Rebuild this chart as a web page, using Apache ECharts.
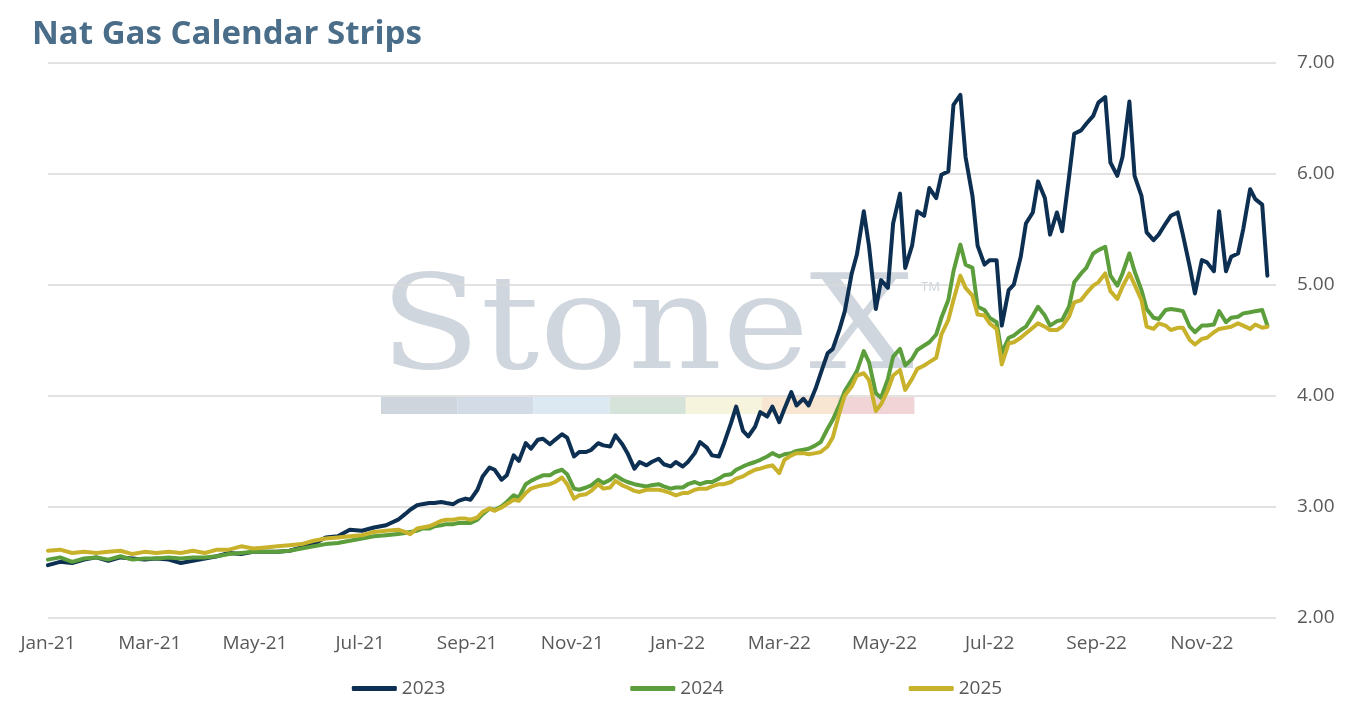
<!DOCTYPE html>
<html>
<head>
<meta charset="utf-8">
<script src="https://cdn.jsdelivr.net/npm/echarts@6/dist/echarts.min.js"></script>
<style>
html,body{margin:0;padding:0;background:#fff;}
#chart{width:1354px;height:707px;}
</style>
</head>
<body>
<div id="chart"></div>
<script>
const titleText = 'Nat Gas Calendar Strips';
const seriesNames = ['2023', '2024', '2025'];
const seriesColors = ['#0d3052', '#5b9e3b', '#c8b22c'];

const tickDates = ['2021-01-01','2021-03-01','2021-05-01','2021-07-01','2021-09-01','2021-11-01',
  '2022-01-01','2022-03-01','2022-05-01','2022-07-01','2022-09-01','2022-11-01'];
const tickLabels = ['Jan-21','Mar-21','May-21','Jul-21','Sep-21','Nov-21',
  'Jan-22','Mar-22','May-22','Jul-22','Sep-22','Nov-22'];
const yTicks = [2, 3, 4, 5, 6, 7];

const dates = [
  '2021-01-01','2021-01-08','2021-01-15','2021-01-22','2021-01-29',
  '2021-02-05','2021-02-12','2021-02-19','2021-02-26',
  '2021-03-05','2021-03-12','2021-03-19','2021-03-26',
  '2021-04-02','2021-04-09','2021-04-16','2021-04-23','2021-04-30',
  '2021-05-07','2021-05-14','2021-05-21','2021-05-28',
  '2021-06-04','2021-06-11','2021-06-18','2021-06-25',
  '2021-07-02','2021-07-09','2021-07-16','2021-07-23',
  '2021-07-27','2021-07-30',
  '2021-08-03','2021-08-06','2021-08-10','2021-08-13','2021-08-17','2021-08-20','2021-08-24','2021-08-27','2021-08-31',
  '2021-09-03','2021-09-07','2021-09-10','2021-09-14','2021-09-17','2021-09-21','2021-09-24','2021-09-28',
  '2021-10-01','2021-10-05','2021-10-08','2021-10-12','2021-10-15','2021-10-19','2021-10-22','2021-10-26','2021-10-29',
  '2021-11-02','2021-11-05','2021-11-09','2021-11-12','2021-11-16','2021-11-19','2021-11-23','2021-11-26','2021-11-30',
  '2021-12-03','2021-12-07','2021-12-10','2021-12-14','2021-12-17','2021-12-21','2021-12-24','2021-12-28','2021-12-31',
  '2022-01-04','2022-01-07','2022-01-11','2022-01-14','2022-01-18','2022-01-21','2022-01-25','2022-01-28',
  '2022-02-01','2022-02-04','2022-02-08','2022-02-11','2022-02-15','2022-02-18','2022-02-22','2022-02-25',
  '2022-03-01','2022-03-04','2022-03-08','2022-03-11','2022-03-15','2022-03-18','2022-03-22','2022-03-25','2022-03-29',
  '2022-04-01','2022-04-05','2022-04-08','2022-04-12','2022-04-15','2022-04-19','2022-04-22','2022-04-26','2022-04-29',
  '2022-05-03','2022-05-06','2022-05-10','2022-05-13','2022-05-17','2022-05-20','2022-05-24','2022-05-27','2022-05-31',
  '2022-06-03','2022-06-07','2022-06-10','2022-06-14','2022-06-17','2022-06-21','2022-06-24','2022-06-28',
  '2022-07-01','2022-07-05','2022-07-08','2022-07-12','2022-07-15','2022-07-19','2022-07-22','2022-07-26','2022-07-29',
  '2022-08-02','2022-08-05','2022-08-09','2022-08-12','2022-08-16','2022-08-19','2022-08-23','2022-08-26','2022-08-30',
  '2022-09-02','2022-09-06','2022-09-09','2022-09-13','2022-09-16','2022-09-20','2022-09-23','2022-09-27','2022-09-30',
  '2022-10-04','2022-10-07','2022-10-11','2022-10-14','2022-10-18','2022-10-21','2022-10-25','2022-10-28',
  '2022-11-01','2022-11-04','2022-11-08','2022-11-11','2022-11-15','2022-11-18','2022-11-22','2022-11-25','2022-11-29',
  '2022-12-02','2022-12-06','2022-12-09'
];

const strip2023 = [
  2.47,2.50,2.49,2.52,2.54, 2.51,2.54,2.53,2.52, 2.53,2.52,2.49,2.51, 2.53,2.55,2.58,2.57,2.59,
  2.59,2.59,2.60,2.63, 2.66,2.72,2.73,2.79, 2.78,2.81,2.83,2.88,
  2.93,2.97,
  3.01,3.02,3.03,3.03,3.04,3.03,3.02,3.05,3.07,
  3.06,3.15,3.27,3.35,3.33,3.24,3.28,3.46,
  3.41,3.57,3.52,3.60,3.61,3.56,3.60,3.65,3.62,
  3.45,3.49,3.49,3.51,3.57,3.55,3.54,3.64,3.56,
  3.48,3.34,3.40,3.37,3.40,3.43,3.38,3.36,3.40,
  3.36,3.40,3.48,3.58,3.53,3.46,3.45,3.57,
  3.75,3.90,3.68,3.63,3.72,3.85,3.81,3.90,
  3.76,3.88,4.03,3.91,3.97,3.91,4.06,4.20,4.38,
  4.42,4.60,4.76,5.10,5.27,5.66,5.35,4.78,5.04,
  4.97,5.55,5.82,5.15,5.35,5.66,5.62,5.87,5.78,
  5.99,6.02,6.62,6.71,6.15,5.80,5.35,5.18,
  5.22,5.22,4.63,4.95,5.00,5.25,5.55,5.65,5.93,
  5.78,5.45,5.65,5.48,5.97,6.36,6.39,6.45,6.52,
  6.64,6.69,6.10,5.98,6.15,6.65,5.98,5.80,5.47,
  5.40,5.45,5.55,5.62,5.65,5.45,5.16,4.92,
  5.22,5.20,5.12,5.66,5.12,5.25,5.28,5.50,5.86,
  5.77,5.72,5.08
];

const strip2024 = [
  2.52,2.54,2.50,2.53,2.54, 2.52,2.55,2.52,2.53, 2.53,2.54,2.53,2.54, 2.54,2.55,2.57,2.58,2.59,
  2.59,2.59,2.60,2.62, 2.64,2.66,2.67,2.69, 2.71,2.73,2.74,2.75,
  2.76,2.77,
  2.78,2.80,2.80,2.82,2.83,2.84,2.84,2.85,2.85,
  2.85,2.88,2.93,2.98,2.97,3.00,3.04,3.10,
  3.08,3.20,3.23,3.26,3.28,3.28,3.31,3.33,3.29,
  3.16,3.15,3.17,3.19,3.24,3.21,3.24,3.28,3.24,
  3.22,3.20,3.19,3.18,3.19,3.20,3.18,3.16,3.17,
  3.17,3.20,3.22,3.20,3.22,3.22,3.25,3.28,
  3.29,3.33,3.36,3.38,3.40,3.42,3.45,3.48,
  3.45,3.47,3.48,3.50,3.51,3.52,3.55,3.58,3.70,
  3.78,3.92,4.04,4.14,4.22,4.40,4.30,4.02,3.98,
  4.15,4.35,4.42,4.27,4.33,4.41,4.45,4.48,4.55,
  4.70,4.86,5.12,5.36,5.18,5.15,4.80,4.77,
  4.70,4.66,4.38,4.52,4.54,4.59,4.62,4.72,4.80,
  4.72,4.63,4.67,4.68,4.80,5.02,5.10,5.15,5.28,
  5.31,5.34,5.08,4.99,5.10,5.28,5.12,4.95,4.78,
  4.70,4.69,4.77,4.78,4.77,4.76,4.62,4.57,
  4.63,4.63,4.64,4.76,4.66,4.70,4.71,4.74,4.75,
  4.76,4.77,4.63
];

const strip2025 = [
  2.60,2.61,2.58,2.59,2.58, 2.59,2.60,2.57,2.59, 2.58,2.59,2.58,2.60, 2.58,2.61,2.61,2.64,2.62,
  2.63,2.64,2.65,2.66, 2.69,2.71,2.72,2.73, 2.74,2.77,2.78,2.79,
  2.77,2.75,
  2.80,2.81,2.82,2.84,2.87,2.88,2.88,2.89,2.89,
  2.88,2.90,2.95,2.98,2.96,2.99,3.02,3.06,
  3.05,3.12,3.16,3.18,3.19,3.20,3.22,3.26,3.20,
  3.07,3.10,3.11,3.14,3.20,3.16,3.17,3.23,3.19,
  3.17,3.14,3.13,3.15,3.15,3.15,3.14,3.12,3.10,
  3.12,3.12,3.15,3.16,3.16,3.18,3.20,3.20,
  3.22,3.25,3.27,3.30,3.33,3.34,3.36,3.37,
  3.30,3.42,3.46,3.48,3.48,3.47,3.48,3.49,3.54,
  3.62,3.85,4.00,4.08,4.18,4.20,4.14,3.86,3.92,
  4.05,4.18,4.23,4.05,4.15,4.24,4.27,4.30,4.34,
  4.55,4.68,4.86,5.08,4.97,4.90,4.73,4.72,
  4.65,4.60,4.28,4.47,4.48,4.52,4.56,4.61,4.65,
  4.62,4.59,4.59,4.62,4.71,4.84,4.86,4.92,4.99,
  5.02,5.10,4.94,4.87,4.98,5.10,5.00,4.86,4.62,
  4.60,4.65,4.63,4.59,4.61,4.61,4.50,4.46,
  4.51,4.52,4.57,4.60,4.61,4.62,4.65,4.63,4.60,
  4.64,4.61,4.62
];

function toTs(s) {
  const p = s.split('-').map(Number);
  return Date.UTC(p[0], p[1] - 1, p[2]);
}
const tickTs = tickDates.map(toTs);
const labelByTs = {};
tickTs.forEach((t, i) => { labelByTs[t] = tickLabels[i]; });

const seriesData = [strip2023, strip2024, strip2025];
const chart = echarts.init(document.getElementById('chart'));

const wmColors = ['#cfd5dd','#d3dce6','#dde9f2','#d5e3da','#f6f4dc','#f8e6d3','#f1d5d6'];
const graphicEls = [
  { type: 'text', x: 380, y: 334, z: -10, silent: true, scaleX: 1.12, scaleY: 1,
    style: { text: 'StoneX', font: '131px "DejaVu Serif"', fill: '#d0d6de', verticalAlign: 'middle', align: 'left' } },
  { type: 'text', x: 921, y: 287, z: -10, silent: true,
    style: { text: 'TM', font: '13px "Noto Sans"', fill: '#cdd4dc', verticalAlign: 'middle' } }
];
wmColors.forEach((c, i) => {
  graphicEls.push({ type: 'rect', z: -10, silent: true,
    shape: { x: 381 + i * 76.2, y: 397, width: 76.2, height: 17 }, style: { fill: c } });
});

const labelFont = 'Open Sans';

chart.setOption({
  animation: false,
  backgroundColor: '#ffffff',
  title: {
    text: titleText, left: 32, top: 18, padding: 0,
    textStyle: { fontFamily: 'Open Sans', fontWeight: 'bold', fontSize: 33, color: '#4a6d89' }
  },
  graphic: graphicEls,
  legend: {
    data: seriesNames, top: 674, left: 'center',
    itemWidth: 45, itemHeight: 5, itemGap: 185, icon: 'roundRect',
    textStyle: { fontFamily: labelFont, fontSize: 19, color: '#595959' }
  },
  grid: { left: 48, right: 78, top: 62.7, bottom: 89.7, containLabel: false },
  xAxis: {
    type: 'value',
    min: toTs('2021-01-01'), max: toTs('2022-12-14'),
    axisLine: { show: false }, axisTick: { show: false }, splitLine: { show: false },
    axisLabel: {
      customValues: tickTs,
      formatter: v => labelByTs[v] || '',
      fontFamily: labelFont, fontSize: 19, color: '#595959', margin: 17,
      showMinLabel: true, showMaxLabel: true, hideOverlap: false
    }
  },
  yAxis: {
    type: 'value', position: 'right', min: 2, max: 7, interval: 1,
    axisLine: { show: false }, axisTick: { show: false },
    splitLine: { lineStyle: { color: '#d9d9d9', width: 1.5 } },
    axisLabel: { formatter: v => v.toFixed(2), fontFamily: labelFont, fontSize: 19, color: '#595959', margin: 21 }
  },
  series: seriesNames.map((n, i) => ({
    name: n, type: 'line', showSymbol: false, symbol: 'none',
    data: dates.map((d, j) => [toTs(d), seriesData[i][j]]),
    lineStyle: { width: 4, color: seriesColors[i], join: 'round', cap: 'round' },
    itemStyle: { color: seriesColors[i] },
    z: 2 + i
  }))
});
</script>
</body>
</html>
